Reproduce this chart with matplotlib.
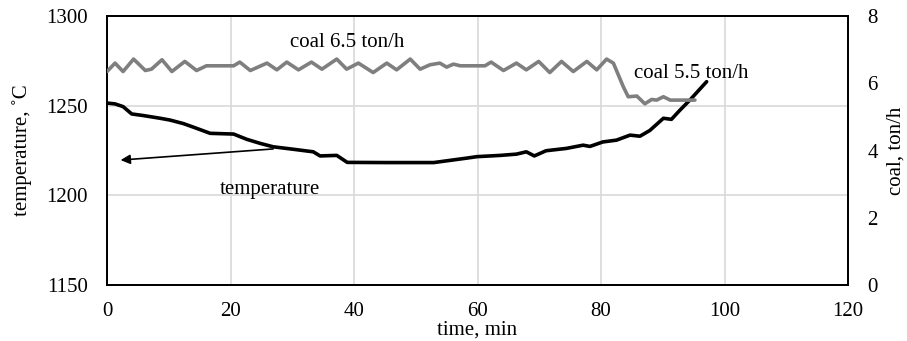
import matplotlib
matplotlib.use("Agg")
import matplotlib.pyplot as plt

plt.rcParams['font.family'] = ['Liberation Serif', 'DejaVu Serif']

# temperature (left axis)
t_time = [0, 1.3, 2.6, 4.0, 5.9, 8.6, 10.2, 12.4, 14.5, 16.7, 20.5, 22.6, 24.8, 26.9,
          30.2, 33.4, 34.5, 37.2, 38.9, 45, 52.9, 55.5, 58.3, 59.9, 63.7, 66.3, 67.9,
          69.2, 71.1, 74.4, 77.1, 78.2, 80.3, 82.5, 84.7, 86.3, 87.9, 90.1, 91.4,
          92.8, 94.4, 97.1]
temp = [1251.5, 1251, 1249.5, 1245.4, 1244.5, 1243, 1242, 1240, 1237.4, 1234.6, 1234.2,
        1231.3, 1229, 1227.1, 1225.7, 1224.3, 1222, 1222.3, 1218.4, 1218.3, 1218.3, 1219.5,
        1220.8, 1221.6, 1222.3, 1223, 1224.3, 1222, 1224.9, 1226.2, 1228, 1227.3, 1229.8,
        1230.8, 1233.6, 1233, 1236.2, 1243, 1242.4, 1247.6, 1253.2, 1263.4]

# coal (right axis)
c_time = [0, 1.3, 2.6, 4.3, 6.2, 7.2, 8.9, 10.5, 12.6, 14.5, 16.1, 20.5, 21.5, 23.2,
          25.9, 27.5, 29.1, 31.0, 33.1, 34.8, 37.2, 38.8, 40.7, 43.1, 45.3, 46.9, 49.1,
          50.7, 52.3, 53.9, 55.0, 56.1, 57.2, 61.2, 62.2, 64.2, 66.3, 67.9, 69.9, 71.7,
          73.6, 75.5, 77.7, 79.3, 80.9, 82.0, 83.6, 84.4, 85.8, 87.1, 88.2, 89.0, 90.1,
          91.2, 95.2]
coal = [6.35, 6.6, 6.35, 6.72, 6.38, 6.42, 6.7, 6.35, 6.65, 6.38, 6.52, 6.52, 6.63, 6.38,
        6.6, 6.4, 6.63, 6.4, 6.63, 6.42, 6.72, 6.42, 6.6, 6.32, 6.6, 6.4, 6.72,
        6.42, 6.55, 6.6, 6.48, 6.57, 6.52, 6.52, 6.63, 6.38, 6.6, 6.4, 6.65, 6.32,
        6.65, 6.35, 6.65, 6.4, 6.72, 6.6, 5.9, 5.6, 5.62, 5.39, 5.52, 5.5, 5.6,
        5.5, 5.5]

x_ticks = [0, 20, 40, 60, 80, 100, 120]
left_ticks = [1150, 1200, 1250, 1300]
right_ticks = [0, 2, 4, 6, 8]

fig = plt.figure(figsize=(9.07, 3.41), dpi=100)
ax = fig.add_axes([0.118, 0.164, 0.817, 0.789])
ax2 = ax.twinx()

ax.set_xlim(0, 120)
ax.set_ylim(1150, 1300)
ax2.set_ylim(0, 8)
ax.set_xticks(x_ticks)
ax.set_yticks(left_ticks)
ax2.set_yticks(right_ticks)

ax.grid(True, color='#d9d9d9', linewidth=1.2)
ax.set_axisbelow(True)

ax.plot(t_time, temp, color='black', linewidth=2.6, solid_capstyle='round', zorder=3)
ax2.plot(c_time, coal, color='#7f7f7f', linewidth=2.6, solid_capstyle='round', zorder=3)

FS = 15
for a in (ax, ax2):
    a.tick_params(axis='y', length=0, labelsize=FS, pad=14)
    a.tick_params(axis='x', length=0, labelsize=FS, pad=12)
    for s in a.spines.values():
        s.set_color('black')
        s.set_linewidth(1.3)

ax.set_xlabel('time, min', fontsize=FS, labelpad=0)
ax.set_ylabel('temperature, ˚C', fontsize=FS, labelpad=10)
ax2.set_ylabel('coal, ton/h', fontsize=FS, labelpad=6)

ax.text(38.9, 1285.5, 'coal 6.5 ton/h', fontsize=FS, ha='center', va='center')
ax.text(85.3, 1268.2, 'coal 5.5 ton/h', fontsize=FS, ha='left', va='center')
ax.text(26.4, 1203.5, 'temperature', fontsize=FS, ha='center', va='center')
ax.annotate('', xy=(2.2, 1219.7), xytext=(26.9, 1225.9),
            arrowprops=dict(arrowstyle='-|>', color='black', lw=1.2,
                            mutation_scale=14, shrinkA=0, shrinkB=0))

fig.savefig('out.png', dpi=100)
